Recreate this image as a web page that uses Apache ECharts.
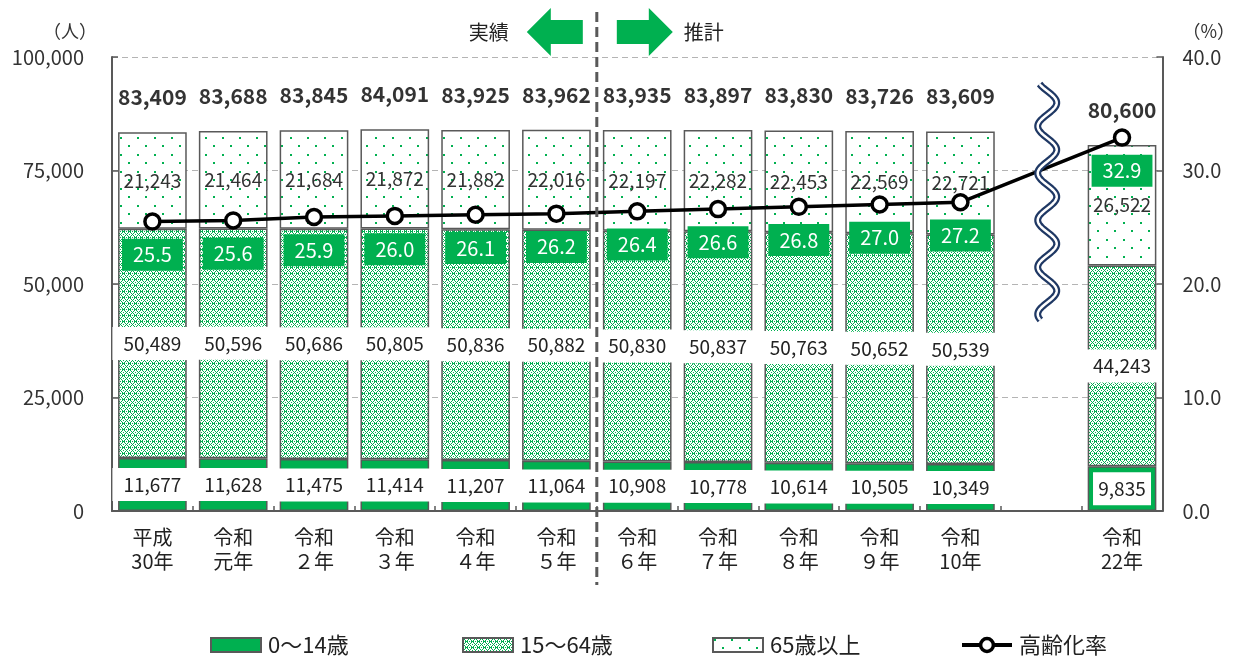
<!DOCTYPE html>
<html><head><meta charset="utf-8">
<script src="https://cdn.jsdelivr.net/npm/echarts@6/dist/echarts.min.js"></script>
<style>html,body{margin:0;padding:0;background:#fff}#c{width:1238px;height:657px}</style>
</head><body><div id="c"></div>
<script>
// ---- data ----
const categories = ['平成\n30年','令和\n元年','令和\n２年','令和\n３年','令和\n４年','令和\n５年','令和\n６年','令和\n７年','令和\n８年','令和\n９年','令和\n10年','','令和\n22年'];
const age0to14  = [11677,11628,11475,11414,11207,11064,10908,10778,10614,10505,10349,null,9835];
const age15to64 = [50489,50596,50686,50805,50836,50882,50830,50837,50763,50652,50539,null,44243];
const age65plus = [21243,21464,21684,21872,21882,22016,22197,22282,22453,22569,22721,null,26522];
const totals    = [83409,83688,83845,84091,83925,83962,83935,83897,83830,83726,83609,null,80600];
const agingRate = [25.5,25.6,25.9,26.0,26.1,26.2,26.4,26.6,26.8,27.0,27.2,null,32.9];
const seriesNames = ['0～14歳','15～64歳','65歳以上','高齢化率'];
const leftUnit = '（人）', rightUnit = '（%）';
const pastLabel = '実績', futureLabel = '推計';

// ---- styles ----
const GREEN = '#00B050', BORDER = '#595959';
const NUMF = "'Noto Sans CJK JP',sans-serif";
const JPF = "'Noto Sans CJK JP',sans-serif";
function fmt(v){ return v == null ? '' : v.toLocaleString('en-US'); }

function checkPattern(){
  const n = 6;
  const c = document.createElement('canvas'); c.width = n; c.height = n;
  const g = c.getContext('2d'); g.fillStyle = '#fff'; g.fillRect(0,0,n,n);
  g.fillStyle = GREEN;
  for (let y=0;y<n;y++) for (let x=0;x<n;x++){
    const a=(x+y)%n, b=(x-y+n)%n;
    if (a===0 || b===0 || (a===3 && b===3)) g.fillRect(x,y,1,1);
  }
  g.fillRect(2,3,1,1); g.fillRect(4,3,1,1);
  return c;
}
function dotPattern(){
  const c = document.createElement('canvas'); c.width = 17; c.height = 17;
  const g = c.getContext('2d'); g.fillStyle = '#fff'; g.fillRect(0,0,17,17);
  g.fillStyle = GREEN; g.fillRect(1,1,2,2); g.fillRect(9,9,2,2);
  return c;
}

const chart = echarts.init(document.getElementById('c'), null, {renderer:'canvas'});

const whiteBoxLabel = {
  show:true, position:'inside', formatter:p=>fmt(p.value),
  fontFamily:NUMF, fontSize:19, color:'#222', backgroundColor:'#fff',
  width:80, align:'center', lineHeight:21, padding:[6,0]
};

const young = age0to14.map((v,i)=> i===age0to14.length-1 ? {value:v, label:{width:58}} : v);

function mkLegend(name, left, extra){
  return Object.assign({
    data:[name], left:left, top:634, orient:'horizontal', padding:0,
    itemWidth:50, itemHeight:14, itemGap:0,
    textStyle:{fontFamily:JPF, fontSize:22, color:'#222', padding:[0,0,0,2]}
  }, extra||{});
}

chart.setOption({
  animation:false,
  textStyle:{fontFamily:JPF},
  grid:{left:112, right:65, top:57, bottom:146, containLabel:false},
  legend:[
    mkLegend(seriesNames[0],210,{icon:'rect'}),
    mkLegend(seriesNames[1],462,{icon:'rect'}),
    mkLegend(seriesNames[2],712,{icon:'rect'}),
    mkLegend(seriesNames[3],960,{itemHeight:16, lineStyle:{width:4, color:'#000'},
      itemStyle:{color:'#fff', borderColor:'#000', borderWidth:3.5}})
  ],
  xAxis:{
    type:'category', data:categories,
    axisLine:{lineStyle:{color:BORDER, width:2}},
    axisTick:{show:true, inside:true, length:5, lineStyle:{color:BORDER, width:1.5}},
    axisLabel:{fontFamily:JPF, fontSize:20, color:'#222', lineHeight:24, margin:14, interval:0}
  },
  yAxis:[
    {type:'value', min:0, max:100000, interval:25000,
     name:leftUnit, nameLocation:'end', nameGap:17,
     nameTextStyle:{fontFamily:JPF, fontSize:18, color:'#333', align:'right', padding:[0,15,0,0]},
     axisLine:{show:true, lineStyle:{color:BORDER, width:2}},
     axisTick:{show:true, inside:true, length:6, lineStyle:{color:BORDER, width:1.5}},
     axisLabel:{fontFamily:NUMF, fontSize:20, color:'#333', margin:28, formatter:v=>fmt(v)},
     splitLine:{show:true, lineStyle:{color:'#b4b4b4', type:[6,4], width:1}}},
    {type:'value', min:0, max:40, interval:10,
     name:rightUnit, nameLocation:'end', nameGap:17,
     nameTextStyle:{fontFamily:JPF, fontSize:18, color:'#333', align:'left', padding:[0,0,0,20]},
     axisLine:{show:true, lineStyle:{color:BORDER, width:2}},
     axisTick:{show:true, inside:true, length:6, lineStyle:{color:BORDER, width:1.5}},
     axisLabel:{fontFamily:NUMF, fontSize:20, color:'#333', margin:20, formatter:v=>v.toFixed(1)},
     splitLine:{show:false}}
  ],
  series:[
    {name:seriesNames[0], type:'bar', stack:'pop', data:young, barWidth:'85%',
     itemStyle:{color:GREEN, borderColor:BORDER, borderWidth:1.5},
     label:whiteBoxLabel, z:2},
    {name:seriesNames[1], type:'bar', stack:'pop', data:age15to64,
     itemStyle:{color:{image:checkPattern(), repeat:'repeat'}, borderColor:BORDER, borderWidth:1.5},
     label:whiteBoxLabel, z:2},
    {name:seriesNames[2], type:'bar', stack:'pop', data:age65plus,
     itemStyle:{color:{image:dotPattern(), repeat:'repeat'}, borderColor:BORDER, borderWidth:1.5},
     label:{show:true, position:'inside', formatter:p=>fmt(p.value), fontFamily:NUMF, fontSize:19, color:'#333'}, z:2},
    {name:'total', type:'scatter', data:totals, symbolSize:1, silent:true,
     itemStyle:{color:'transparent'},
     label:{show:true, position:'top', distance:24, formatter:p=>fmt(p.value),
            fontFamily:NUMF, fontSize:21, fontWeight:'bold', color:'#000'}, z:3},
    {name:seriesNames[3], type:'line', yAxisIndex:1, data:agingRate, connectNulls:true,
     symbol:'circle', symbolSize:15, showAllSymbol:true,
     lineStyle:{color:'#000', width:3.5},
     itemStyle:{color:'#fff', borderColor:'#000', borderWidth:3.5},
     label:{show:true, position:'bottom', distance:8, formatter:p=>p.value.toFixed(1),
            fontFamily:NUMF, fontSize:20, color:'#fff', backgroundColor:GREEN,
            padding:[5,11], lineHeight:22}, z:5}
  ]
});

// annotations placed relative to the axis scale
const x5 = chart.convertToPixel({xAxisIndex:0}, 5);
const x6 = chart.convertToPixel({xAxisIndex:0}, 6);
const xGap = chart.convertToPixel({xAxisIndex:0}, 11) + 6;
const sepX = (x5 + x6) / 2;
const wave = [];
for (let y=84; y<=320; y+=1) wave.push([xGap + 9.5*Math.sin(Math.PI*(y-91)/23.5), y]);

chart.setOption({
  graphic:[
    {type:'line', z:50, shape:{x1:sepX, y1:12, x2:sepX, y2:585},
     style:{stroke:BORDER, lineWidth:3, lineDash:[10,5]}},
    {type:'polygon', z:50, shape:{points:[[sepX-70,32],[sepX-46,8],[sepX-46,20],[sepX-14,20],[sepX-14,44],[sepX-46,44],[sepX-46,56]]},
     style:{fill:GREEN}},
    {type:'polygon', z:50, shape:{points:[[sepX+76,32],[sepX+52,8],[sepX+52,20],[sepX+20,20],[sepX+20,44],[sepX+52,44],[sepX+52,56]]},
     style:{fill:GREEN}},
    {type:'text', z:50, style:{text:pastLabel, x:sepX-88, y:32, align:'right', verticalAlign:'middle',
     font:"20px 'Noto Sans CJK JP'", fill:'#222'}},
    {type:'text', z:50, style:{text:futureLabel, x:sepX+87, y:32, align:'left', verticalAlign:'middle',
     font:"20px 'Noto Sans CJK JP'", fill:'#222'}},
    {type:'polyline', z:60, shape:{points:wave}, style:{stroke:'#1F3864', lineWidth:7, fill:null}},
    {type:'polyline', z:61, shape:{points:wave}, style:{stroke:'#fff', lineWidth:2.5, fill:null}}
  ]
});
</script>
</body></html>
